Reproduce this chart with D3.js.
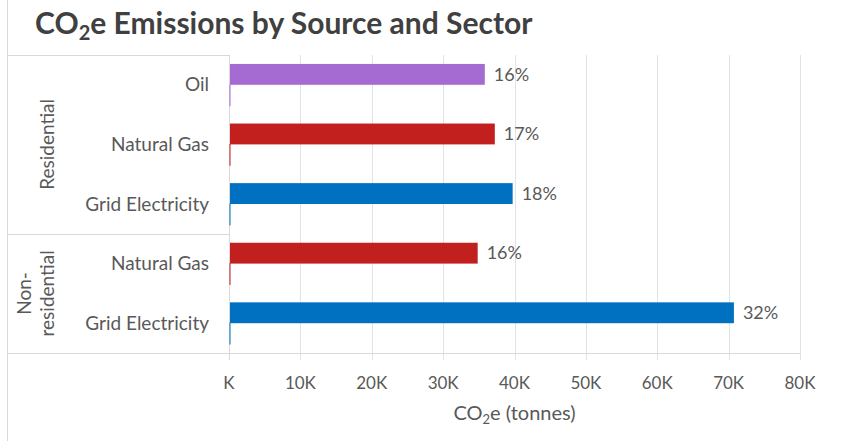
<!DOCTYPE html>
<html>
<head>
<meta charset="utf-8">
<script src="https://cdn.jsdelivr.net/npm/d3@7"></script>
<style>
  body { margin: 0; background: #fff; }
  text { font-family: Lato, "Open Sans", sans-serif; }
</style>
</head>
<body>
<div id="chart"></div>
<script>
// Data
const sectors = ["Residential", "Residential", "Residential", "Non-residential", "Non-residential"];
const sources = ["Oil", "Natural Gas", "Grid Electricity", "Natural Gas", "Grid Electricity"];
const tonnes = [35700, 37100, 39600, 34700, 70600];
const shares = [0.16, 0.17, 0.18, 0.16, 0.32];
const xTicks = [0, 10000, 20000, 30000, 40000, 50000, 60000, 70000, 80000];

const colorBySource = { "Oil": "#a66bd3", "Natural Gas": "#c21f1f", "Grid Electricity": "#0070c0" };

const width = 852;
const height = 441;
const margin = { top: 55, right: 52, bottom: 88, left: 229 };

const rows = sources.map((s, i) => ({
  key: i, sector: sectors[i], source: s, tonnes: tonnes[i], share: shares[i]
}));

const svg = d3.select("#chart").append("svg")
  .attr("width", width)
  .attr("height", height)
  .style("background", "white");

const x = d3.scaleLinear()
  .domain([0, 80000])
  .range([margin.left, width - margin.right]);

const y = d3.scaleBand()
  .domain(rows.map(d => d.key))
  .range([margin.top, height - margin.bottom])
  .paddingInner(0.3)
  .paddingOuter(0.15);

const inner = d3.scaleBand()
  .domain(["tonnes", "share"])
  .range([0, y.bandwidth()]);

const gray = "#595959";
const lineColor = "#d9d9d9";

// left border of chart area
svg.append("line")
  .attr("x1", 7.5).attr("x2", 7.5)
  .attr("y1", 0).attr("y2", height)
  .attr("stroke", lineColor);

// gridlines + ticks
svg.append("g")
  .selectAll("line")
  .data(xTicks)
  .join("line")
  .attr("x1", d => Math.round(x(d)) + 0.5)
  .attr("x2", d => Math.round(x(d)) + 0.5)
  .attr("y1", margin.top)
  .attr("y2", height - margin.bottom + 7)
  .attr("stroke", "#e3e3e3");

// x axis line
const y0 = height - margin.bottom;
svg.append("line")
  .attr("x1", 7).attr("x2", x(80000))
  .attr("y1", y0 + 0.5).attr("y2", y0 + 0.5)
  .attr("stroke", lineColor);

// category axis group boundaries
const groups = Array.from(d3.group(rows, d => d.sector), ([name, v]) => ({
  name, first: v[0].key, last: v[v.length - 1].key
}));
const groupTop = g => y(g.first) - y.step() * y.paddingInner() / 2;
const groupBottom = g => y(g.last) + y.bandwidth() + y.step() * y.paddingInner() / 2;

svg.append("g")
  .selectAll("line")
  .data(groups)
  .join("line")
  .attr("x1", 7).attr("x2", margin.left)
  .attr("y1", g => Math.round(groupTop(g)) + 0.5)
  .attr("y2", g => Math.round(groupTop(g)) + 0.5)
  .attr("stroke", lineColor);

svg.append("line")
  .attr("x1", margin.left + 0.5).attr("x2", margin.left + 0.5)
  .attr("y1", margin.top).attr("y2", y0 + 7)
  .attr("stroke", lineColor);

// bars
const bars = svg.append("g");
bars.selectAll("rect.tonnes")
  .data(rows)
  .join("rect")
  .attr("class", "tonnes")
  .attr("x", x(0) + 1)
  .attr("y", d => y(d.key) + inner("tonnes"))
  .attr("width", d => x(d.tonnes) - x(0))
  .attr("height", inner.bandwidth())
  .attr("fill", d => colorBySource[d.source]);

// second series (share) sits on the tonnes axis, so it shows only as an outline
bars.selectAll("rect.share")
  .data(rows)
  .join("rect")
  .attr("class", "share")
  .attr("x", x(0) + 1)
  .attr("y", d => y(d.key) + inner("share"))
  .attr("width", d => x(d.share) - x(0))
  .attr("height", inner.bandwidth())
  .attr("fill", d => colorBySource[d.source])
  .attr("stroke", d => colorBySource[d.source])
  .attr("stroke-width", 1);

// data labels
svg.append("g")
  .selectAll("text")
  .data(rows)
  .join("text")
  .attr("x", d => x(d.tonnes) + 10)
  .attr("y", d => y(d.key) + inner("tonnes") + inner.bandwidth() / 2)
  .attr("dy", "0.35em")
  .attr("font-size", 18)
  .attr("fill", gray)
  .text(d => d3.format(".0%")(d.share));

// source labels
svg.append("g")
  .selectAll("text")
  .data(rows)
  .join("text")
  .attr("x", margin.left - 20)
  .attr("y", d => y(d.key) + y.bandwidth() / 2)
  .attr("dy", "0.35em")
  .attr("text-anchor", "end")
  .attr("font-size", 19)
  .attr("fill", gray)
  .text(d => d.source);

// sector labels (rotated)
const sectorLabels = svg.append("g")
  .selectAll("text")
  .data(groups)
  .join("text")
  .attr("transform", g => {
    const cy = (groupTop(g) + groupBottom(g)) / 2;
    const cx = g.name === "Non-residential" ? 24 : 47;
    return `translate(${cx},${cy}) rotate(-90)`;
  })
  .attr("text-anchor", "middle")
  .attr("font-size", 19)
  .attr("fill", gray);

sectorLabels.each(function(g) {
  const parts = g.name === "Non-residential" ? ["Non-", "residential"] : [g.name];
  d3.select(this).selectAll("tspan")
    .data(parts)
    .join("tspan")
    .attr("x", 0)
    .attr("dy", (p, i) => i === 0 ? "0.35em" : "1.25em")
    .text(p => p);
});

// x tick labels
svg.append("g")
  .selectAll("text")
  .data(xTicks)
  .join("text")
  .attr("x", d => x(d))
  .attr("y", y0 + 30)
  .attr("dy", "0.35em")
  .attr("text-anchor", "middle")
  .attr("font-size", 17)
  .attr("fill", gray)
  .text(d => (d === 0 ? "" : d / 1000) + "K");

// x axis title
const xTitle = svg.append("text")
  .attr("x", (x(0) + x(80000)) / 2)
  .attr("y", y0 + 67)
  .attr("text-anchor", "middle")
  .attr("font-size", 20)
  .attr("fill", gray);
xTitle.append("tspan").text("CO");
xTitle.append("tspan").attr("font-size", 13).attr("dy", 4).text("2");
xTitle.append("tspan").attr("dy", -4).text("e (tonnes)");

// chart title
const title = svg.append("text")
  .attr("x", 35)
  .attr("y", 34)
  .attr("font-size", 30)
  .attr("font-weight", "bold")
  .attr("fill", "#404040");
title.append("tspan").text("CO");
title.append("tspan").attr("font-size", 20).attr("dy", 6).text("2");
title.append("tspan").attr("dy", -6).text("e Emissions by Source and Sector");
</script>
</body>
</html>
